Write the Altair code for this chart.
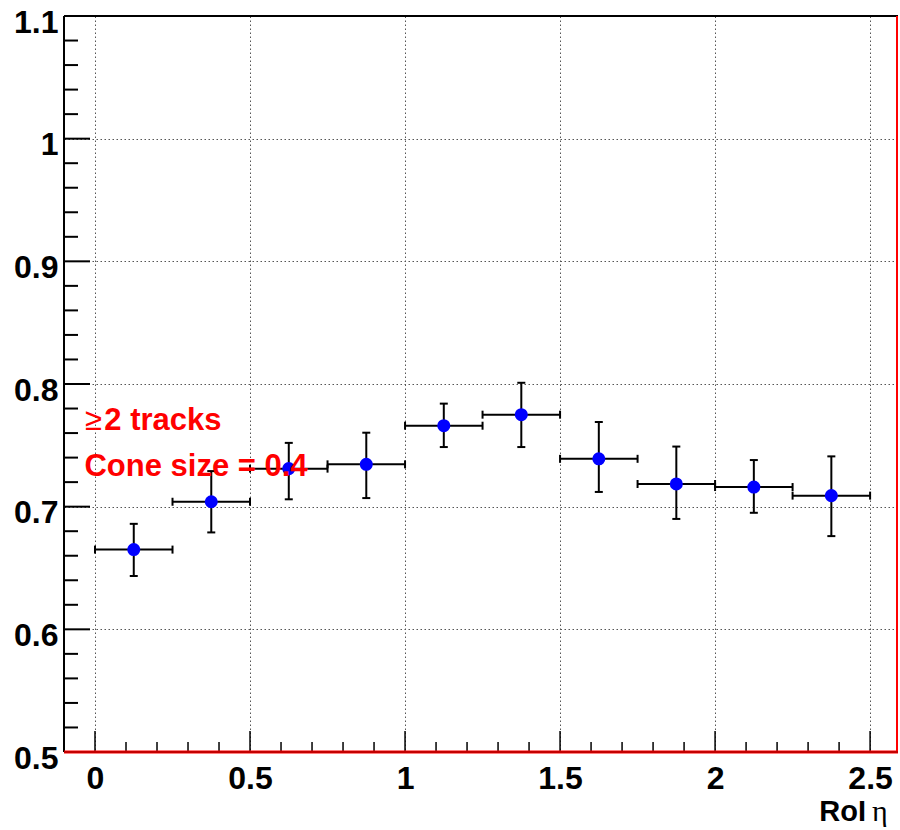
import altair as alt
import pandas as pd

# ---- data ----
bin_lo = [0.0, 0.25, 0.5, 0.75, 1.0, 1.25, 1.5, 1.75, 2.0, 2.25]
bin_hi = [0.25, 0.5, 0.75, 1.0, 1.25, 1.5, 1.75, 2.0, 2.25, 2.5]
bin_center = [0.125, 0.375, 0.625, 0.875, 1.125, 1.375, 1.625, 1.875, 2.125, 2.375]
eff = [0.665, 0.704, 0.731, 0.7345, 0.766, 0.775, 0.739, 0.7185, 0.716, 0.709]
eff_hi = [0.686, 0.729, 0.752, 0.7603, 0.784, 0.801, 0.769, 0.749, 0.738, 0.741]
eff_lo = [0.6435, 0.679, 0.706, 0.707, 0.7486, 0.7486, 0.712, 0.690, 0.695, 0.676]

x_major = [0, 0.5, 1, 1.5, 2, 2.5]
x_minor = [0.1, 0.2, 0.3, 0.4, 0.6, 0.7, 0.8, 0.9, 1.1, 1.2, 1.3, 1.4,
           1.6, 1.7, 1.8, 1.9, 2.1, 2.2, 2.3, 2.4]
y_major = [0.5, 0.6, 0.7, 0.8, 0.9, 1.0, 1.1]
y_minor = [0.52, 0.54, 0.56, 0.58, 0.62, 0.64, 0.66, 0.68, 0.72, 0.74, 0.76, 0.78,
           0.82, 0.84, 0.86, 0.88, 0.92, 0.94, 0.96, 0.98, 1.02, 1.04, 1.06, 1.08]

x_title = "RoI"
x_title_sym = "η"
note_sym = "≥"
note_1 = "2 tracks"
note_2 = "Cone size = 0.4"

W, H = 834, 736
FONT = "Liberation Sans"

df = pd.DataFrame({"lo": bin_lo, "hi": bin_hi, "xc": bin_center,
                   "y": eff, "yhi": eff_hi, "ylo": eff_lo})

xs = alt.Scale(domain=[-0.1, 2.59], nice=False, zero=False)
ys = alt.Scale(domain=[0.5, 1.1], nice=False, zero=False)

x_axis = alt.Axis(values=x_major, format="~g", grid=True, ticks=False, tickSize=0,
                  domain=False, labelFont=FONT, labelFontSize=32, labelFontWeight="bold",
                  labelColor="black", labelPadding=11, labelBaseline="top", title=None,
                  gridDash=[1.5, 2.5], gridColor="#555555", gridWidth=1)
y_axis = alt.Axis(values=y_major, format="~g", grid=True, ticks=False, tickSize=0,
                  domain=False, labelFont=FONT, labelFontSize=32, labelFontWeight="bold",
                  labelColor="black", labelPadding=6, labelOffset=6, labelBaseline="middle",
                  title=None, gridDash=[1.5, 2.5], gridColor="#555555", gridWidth=1)


def X(f):
    return alt.X(f, scale=xs, axis=x_axis, title=None)


def Y(f):
    return alt.Y(f, scale=ys, axis=y_axis, title=None)


base = alt.Chart(df)

# vertical error bars
verr = base.mark_rule(color="black", strokeWidth=2).encode(x=X("xc:Q"), y=Y("ylo:Q"), y2="yhi:Q")
# horizontal bin-width bars
herr = base.mark_rule(color="black", strokeWidth=2).encode(x=X("lo:Q"), x2="hi:Q", y=Y("y:Q"))
cap_top = base.mark_tick(orient="horizontal", size=8, thickness=2, color="black", opacity=1).encode(
    x=X("xc:Q"), y=Y("yhi:Q"))
cap_bot = base.mark_tick(orient="horizontal", size=8, thickness=2, color="black", opacity=1).encode(
    x=X("xc:Q"), y=Y("ylo:Q"))
cap_l = base.mark_tick(orient="vertical", size=8, thickness=2, color="black", opacity=1).encode(
    x=X("lo:Q"), y=Y("y:Q"))
cap_r = base.mark_tick(orient="vertical", size=8, thickness=2, color="black", opacity=1).encode(
    x=X("hi:Q"), y=Y("y:Q"))

points = base.mark_point(filled=True, shape="circle", size=170, color="#0000ff", opacity=1).encode(
    x=X("xc:Q"), y=Y("y:Q"))

# inward ticks
ymaj = alt.Chart(pd.DataFrame({"v": y_major})).mark_rule(color="black", strokeWidth=2).encode(
    y=Y("v:Q"), x=alt.value(0), x2=alt.value(26))
ymin = alt.Chart(pd.DataFrame({"v": y_minor})).mark_rule(color="black", strokeWidth=2).encode(
    y=Y("v:Q"), x=alt.value(0), x2=alt.value(14))
xmaj = alt.Chart(pd.DataFrame({"v": x_major})).mark_rule(color="black", strokeWidth=1.5).encode(
    x=X("v:Q"), y=alt.value(H), y2=alt.value(H - 21))
xmin = alt.Chart(pd.DataFrame({"v": x_minor})).mark_rule(color="black", strokeWidth=1.5).encode(
    x=X("v:Q"), y=alt.value(H), y2=alt.value(H - 10))

one = pd.DataFrame({"a": [0]})
frame_top = alt.Chart(one).mark_rule(color="black", strokeWidth=2).encode(
    x=alt.value(0), x2=alt.value(W), y=alt.value(0))
frame_left = alt.Chart(one).mark_rule(color="black", strokeWidth=2).encode(
    x=alt.value(0), y=alt.value(0), y2=alt.value(H))
frame_right = alt.Chart(one).mark_rule(color="#ff0000", strokeWidth=2).encode(
    x=alt.value(W - 1), y=alt.value(0), y2=alt.value(H))
frame_bottom = alt.Chart(one).mark_rule(color="#ff0000", strokeWidth=3).encode(
    x=alt.value(0), x2=alt.value(W), y=alt.value(H))
frame_bottom2 = alt.Chart(one).mark_rule(color="#8a0000", strokeWidth=1).encode(
    x=alt.value(0), x2=alt.value(W), y=alt.value(H))

# annotations
t_sym = alt.Chart(one).mark_text(text=note_sym, font=FONT, fontSize=31, color="#ff0000",
                                 align="left", baseline="alphabetic").encode(
    x=alt.datum(-0.032, scale=xs, axis=x_axis, title=None),
    y=alt.datum(0.7625, scale=ys, axis=y_axis, title=None))
t1 = alt.Chart(one).mark_text(text=note_1, font=FONT, fontSize=31, fontWeight="bold",
                              color="#ff0000", align="left", baseline="alphabetic").encode(
    x=alt.datum(0.030, scale=xs, axis=x_axis, title=None),
    y=alt.datum(0.7625, scale=ys, axis=y_axis, title=None))
t2 = alt.Chart(one).mark_text(text=note_2, font=FONT, fontSize=31, fontWeight="bold",
                              color="#ff0000", align="left", baseline="alphabetic").encode(
    x=alt.datum(-0.034, scale=xs, axis=x_axis, title=None),
    y=alt.datum(0.725, scale=ys, axis=y_axis, title=None))

title1 = alt.Chart(one).mark_text(text=x_title, font=FONT, fontSize=29, fontWeight="bold",
                                  color="black", align="right", baseline="alphabetic").encode(
    x=alt.value(802), y=alt.value(805))
title2 = alt.Chart(one).mark_text(text=x_title_sym, font="Liberation Serif", fontSize=30,
                                  color="black", align="left", baseline="alphabetic").encode(
    x=alt.value(808), y=alt.value(805))

chart = alt.layer(
    verr, herr, cap_top, cap_bot, cap_l, cap_r, points,
    ymaj, ymin, xmaj, xmin,
    t_sym, t1, t2, title1, title2,
    frame_top, frame_left, frame_right, frame_bottom, frame_bottom2,
).properties(
    width=W, height=H,
    padding={"left": 64, "top": 16, "right": 2, "bottom": 78},
    autosize=alt.AutoSizeParams(type="none"),
    background="white",
).configure_view(stroke=None)

chart.save("out.html", embed_options={"renderer": "svg", "actions": False})
